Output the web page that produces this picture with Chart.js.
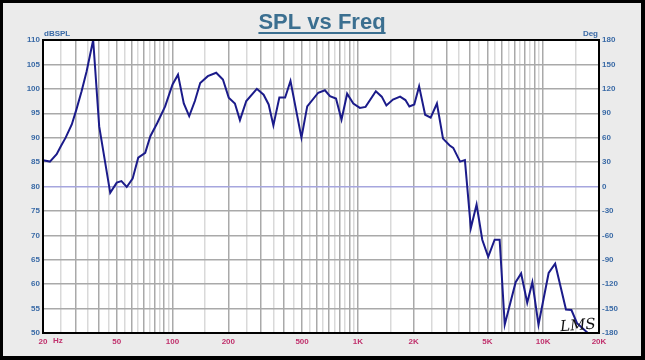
<!DOCTYPE html>
<html>
<head>
<meta charset="utf-8">
<script src="https://cdn.jsdelivr.net/npm/chart.js@4"></script>
<style>
  body { margin: 0; background: #ebebeb; }
  #wrap { position: relative; width: 645px; height: 360px; }
</style>
</head>
<body>
<div id="wrap"><canvas id="spl" width="645" height="360"></canvas></div>
<script>
// frequency response
const freqs = [20, 21.8, 23.7, 25, 26.5, 28.6, 30.3, 32.3, 34.4, 37.3, 40.2, 46.1, 50, 53, 56.6, 60.9, 65.3, 71.2, 75.9, 82.7,
  91.2, 100, 107, 115, 123, 132, 141, 155, 172, 187, 201, 217, 231, 250, 285, 310, 330, 350, 377, 405,
  433, 496, 533, 611, 664, 707, 762, 816, 875, 945, 1025, 1100, 1250, 1345, 1425, 1546, 1690, 1805, 1896, 2015,
  2140, 2306, 2470, 2670, 2880, 3130, 3270, 3560, 3780, 4070, 4370, 4690, 5050, 5470, 5820, 6200, 7100, 7600, 8200, 8740,
  9430, 10700, 11600, 13270, 14200, 15220, 17400, 20000];
const spl = [85.4, 85.1, 86.6, 88.3, 90.0, 92.7, 95.8, 99.5, 103.6, 110, 92.3, 78.7, 80.8, 81.1, 79.9, 81.6, 85.9, 86.9, 90.3, 93.0,
  96.4, 100.9, 102.9, 97.0, 94.4, 97.5, 101.2, 102.6, 103.3, 101.9, 98.2, 97.0, 93.6, 97.5, 100.0, 98.8, 96.8, 92.5, 98.2, 98.2,
  101.6, 90.0, 96.4, 99.2, 99.7, 98.5, 98.0, 93.7, 99.0, 97.0, 96.1, 96.3, 99.5, 98.4, 96.6, 97.8, 98.4, 97.7, 96.4, 96.8,
  100.5, 94.7, 94.1, 97.0, 89.8, 88.4, 87.9, 85.1, 85.4, 71.5, 76.3, 69.1, 65.6, 69.1, 69.1, 51.7, 60.4, 62.2, 56.2, 60.4,
  51.7, 62.3, 64.2, 54.8, 54.7, 52.0, 50, 50];

// vertical grid: 5 Hz steps below 100, then 50/500 steps, plus 150/1500/15K
const freqGrid = [20, 25, 30, 35, 40, 45, 50, 55, 60, 65, 70, 75, 80, 85, 90, 95, 100, 150,
  200, 250, 300, 350, 400, 450, 500, 550, 600, 650, 700, 750, 800, 850, 900, 950, 1000, 1500,
  2000, 2500, 3000, 3500, 4000, 4500, 5000, 5500, 6000, 6500, 7000, 7500, 8000, 8500, 9000, 9500, 10000, 15000, 20000];
const freqLabels = { 20: '20', 50: '50', 100: '100', 200: '200', 500: '500', 1000: '1K', 2000: '2K', 5000: '5K', 10000: '10K', 20000: '20K' };

const blueText = '#3a6aa6';
const pinkText = '#c0306c';
const tickFont = { family: 'Liberation Sans', size: 8, weight: 'bold' };

function isMajor(v) {
  const m = v / Math.pow(10, Math.floor(Math.log10(v) + 1e-9));
  return Math.abs(m - Math.round(m)) < 1e-6;
}

const frame = {
  id: 'frame',
  beforeDraw(chart) {
    const { ctx, chartArea: a } = chart;
    ctx.save();
    ctx.fillStyle = '#ebebeb';
    ctx.fillRect(0, 0, chart.width, chart.height);
    ctx.fillStyle = '#ffffff';
    ctx.fillRect(a.left, a.top, a.right - a.left, a.bottom - a.top);
    ctx.restore();
  },
  afterDraw(chart) {
    const { ctx, chartArea: a } = chart;
    ctx.save();
    // plot border
    ctx.strokeStyle = '#000';
    ctx.lineWidth = 2;
    ctx.strokeRect(a.left, a.top, a.right - a.left, a.bottom - a.top);
    // outer border
    ctx.lineWidth = 3;
    ctx.strokeRect(1.5, 1.5, chart.width - 4, chart.height - 4);
    ctx.fillRect(chart.width - 4, 0, 4, chart.height);
    ctx.fillRect(0, chart.height - 4, chart.width, 4);

    // title, underlined
    ctx.font = 'bold 22px Liberation Sans';
    ctx.fillStyle = '#3b6f90';
    ctx.textAlign = 'center';
    ctx.textBaseline = 'alphabetic';
    const title = 'SPL vs Freq';
    ctx.fillText(title, 322, 29);
    const w = ctx.measureText(title).width;
    ctx.fillRect(322 - w / 2, 32, w, 2);

    // axis captions
    ctx.font = 'bold 8px Liberation Sans';
    ctx.fillStyle = blueText;
    ctx.textBaseline = 'middle';
    ctx.textAlign = 'left';
    ctx.fillText('dBSPL', a.left + 1, 34);
    ctx.textAlign = 'right';
    ctx.fillText('Deg', a.right - 1, 34);
    ctx.fillStyle = pinkText;
    ctx.textAlign = 'left';
    ctx.fillText('Hz', 53, 341);

    // hand-signed logo
    ctx.font = 'italic 15px DejaVu Serif';
    ctx.fillStyle = '#111';
    ctx.translate(578, 326);
    ctx.rotate(-0.08);
    ctx.textAlign = 'center';
    ctx.fillText('LMS', 0, 0);
    ctx.restore();
  }
};

new Chart(document.getElementById('spl'), {
  type: 'line',
  data: {
    datasets: [{
      data: freqs.map((f, i) => ({ x: f, y: spl[i] })),
      borderColor: '#1b1b8a',
      borderWidth: 2,
      pointRadius: 0,
      tension: 0,
      yAxisID: 'y'
    }]
  },
  options: {
    responsive: false,
    animation: false,
    layout: { padding: { top: 40, left: 0, right: 0, bottom: 0 } },
    plugins: { legend: { display: false }, tooltip: { enabled: false } },
    scales: {
      x: {
        type: 'logarithmic',
        min: 20,
        max: 20000,
        afterBuildTicks: (scale) => { scale.ticks = freqGrid.map((v) => ({ value: v })); },
        afterFit: (scale) => { scale.height = 27; },
        border: { display: false },
        grid: {
          drawTicks: false,
          color: (c) => (isMajor(c.tick.value) ? '#a9a9a9' : '#d9d9d9'),
          lineWidth: (c) => (isMajor(c.tick.value) ? 1.5 : 1.5)
        },
        ticks: {
          autoSkip: false,
          maxRotation: 0,
          padding: 4,
          color: pinkText,
          font: tickFont,
          callback: (v) => freqLabels[v] || ''
        }
      },
      y: {
        position: 'left',
        min: 50,
        max: 110,
        afterFit: (scale) => { scale.width = 43; },
        border: { display: false },
        grid: {
          drawTicks: false,
          color: (c) => (c.tick.value === 80 ? '#a6a6de' : (c.tick.value % 5 === 0 ? '#a9a9a9' : '#d9d9d9')),
          lineWidth: 1.5
        },
        ticks: {
          stepSize: 2.5,
          padding: 3,
          color: blueText,
          font: tickFont,
          callback: (v) => (v % 5 === 0 ? v : '')
        }
      },
      y2: {
        position: 'right',
        min: -180,
        max: 180,
        afterFit: (scale) => { scale.width = 46; },
        border: { display: false },
        grid: { display: false, drawTicks: false },
        ticks: {
          stepSize: 30,
          padding: 3,
          color: blueText,
          font: tickFont
        }
      }
    }
  },
  plugins: [frame]
});
</script>
</body>
</html>
